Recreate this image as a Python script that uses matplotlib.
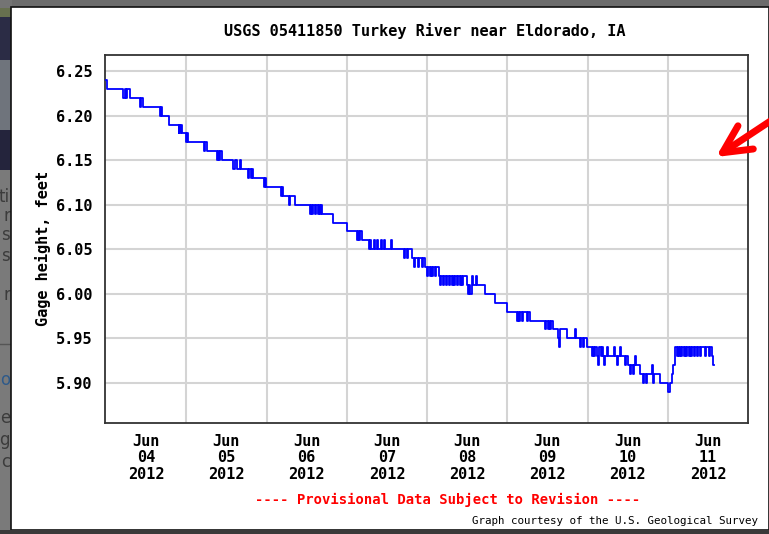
"""
USGS gage height chart - Turkey River near Eldorado, IA (Jun 04-11 2012)
"""

import matplotlib
matplotlib.use('Agg')
import matplotlib.pyplot as plt
from matplotlib.patches import Rectangle

# Gage height readings (feet), as step changes; hours counted from Jun 04 2012 00:00
hours = [
    0.0, 0.25, 5.2, 5.6, 6.0, 6.3, 7.3, 10.1, 10.4, 11.1, 16.0, 16.3, 16.6,
    18.7, 21.7, 21.9, 22.2, 22.5, 22.8, 24.0, 24.3, 24.6,
    29.2, 29.5, 30.2, 33.1, 33.4, 33.9, 34.1, 34.6,
    38.1, 38.5, 39.3, 40.0, 40.4, 42.6, 42.9, 43.3, 43.6, 43.9, 47.3, 47.6, 47.9,
    52.3, 52.6, 52.9, 54.7, 55.0, 56.4,
    60.9, 61.2, 61.7, 62.0, 62.5, 62.8, 63.3, 63.6, 64.1, 64.4, 64.7, 67.8,
    72.0, 75.0, 75.3, 75.8, 76.1, 76.7, 78.6, 78.9, 79.2,
    80.1, 80.4, 81.0, 81.3, 82.1, 82.4, 83.2, 83.5, 85.1, 85.4,
    89.1, 89.4, 89.9, 90.2, 91.5, 92.0, 92.3, 93.2, 93.5, 94.5, 94.8, 95.5,
    96.0, 96.3, 96.8, 97.1, 97.6, 97.9, 98.4, 98.7, 99.5,
    100.0, 100.3, 100.8, 101.1, 101.6, 101.9, 102.6, 102.9, 103.4, 103.7,
    104.2, 104.5, 105.0, 105.3, 105.8, 106.1, 106.6, 106.9,
    107.9, 108.2, 108.5, 109.0, 109.4, 109.7, 110.6, 110.9, 113.4, 116.3, 119.8,
    122.8, 123.1, 123.6, 123.9, 124.4, 124.7, 126.0, 126.3, 126.8,
    131.3, 131.6, 132.1, 132.4, 132.9, 133.2, 133.8,
    135.3, 135.6, 135.9, 137.8, 140.3, 140.6,
    141.8, 142.1, 142.6, 142.9, 143.8,
    145.2, 145.5, 146.0, 146.3, 146.8, 147.1, 147.4, 147.9, 148.2, 148.7,
    149.0, 149.3, 149.8, 150.1, 151.8, 152.1, 152.8, 153.1, 153.8, 154.1,
    155.2, 155.5, 156.0, 156.7, 157.0, 157.5, 157.8, 158.2, 158.5, 159.7,
    160.5, 160.8, 161.6, 161.9, 163.2, 163.5, 163.7, 164.0, 165.7,
    168.2, 168.7, 169.2, 169.5, 170.2,
    170.7, 171.0, 171.3, 171.6, 172.0, 172.3, 172.8, 173.1, 173.5, 173.8,
    174.3, 174.6, 175.0, 175.3, 175.8, 176.1, 176.6, 176.9, 177.7, 178.0,
    179.2, 179.5, 180.3, 180.6, 181.2, 181.5, 181.7,
]
gage_ft = [
    6.24, 6.23, 6.22, 6.23, 6.22, 6.23, 6.22, 6.21, 6.22, 6.21, 6.20, 6.21, 6.20,
    6.19, 6.18, 6.19, 6.18, 6.19, 6.18, 6.17, 6.18, 6.17,
    6.16, 6.17, 6.16, 6.15, 6.16, 6.15, 6.16, 6.15,
    6.14, 6.15, 6.14, 6.15, 6.14, 6.13, 6.14, 6.13, 6.14, 6.13, 6.12, 6.13, 6.12,
    6.11, 6.12, 6.11, 6.10, 6.11, 6.10,
    6.09, 6.10, 6.09, 6.10, 6.09, 6.10, 6.09, 6.10, 6.09, 6.10, 6.09, 6.08,
    6.07, 6.06, 6.07, 6.06, 6.07, 6.06, 6.05, 6.06, 6.05,
    6.06, 6.05, 6.06, 6.05, 6.06, 6.05, 6.06, 6.05, 6.06, 6.05,
    6.04, 6.05, 6.04, 6.05, 6.04, 6.03, 6.04, 6.03, 6.04, 6.03, 6.04, 6.03,
    6.02, 6.03, 6.02, 6.03, 6.02, 6.03, 6.02, 6.03, 6.02,
    6.01, 6.02, 6.01, 6.02, 6.01, 6.02, 6.01, 6.02, 6.01, 6.02,
    6.01, 6.02, 6.01, 6.02, 6.01, 6.02, 6.01, 6.02,
    6.01, 6.00, 6.01, 6.00, 6.02, 6.01, 6.02, 6.01, 6.00, 5.99, 5.98,
    5.97, 5.98, 5.97, 5.98, 5.97, 5.98, 5.97, 5.98, 5.97,
    5.96, 5.97, 5.96, 5.97, 5.96, 5.97, 5.96,
    5.95, 5.94, 5.96, 5.95, 5.96, 5.95,
    5.94, 5.95, 5.94, 5.95, 5.94,
    5.93, 5.94, 5.93, 5.94, 5.93, 5.92, 5.94, 5.93, 5.94, 5.93,
    5.92, 5.93, 5.94, 5.93, 5.94, 5.93, 5.92, 5.93, 5.94, 5.93,
    5.92, 5.93, 5.92, 5.91, 5.92, 5.91, 5.92, 5.93, 5.92, 5.91,
    5.90, 5.91, 5.90, 5.91, 5.92, 5.91, 5.90, 5.91, 5.90,
    5.89, 5.90, 5.91, 5.92, 5.94,
    5.93, 5.94, 5.93, 5.94, 5.93, 5.94, 5.93, 5.94, 5.93, 5.94,
    5.93, 5.94, 5.93, 5.94, 5.93, 5.94, 5.93, 5.94, 5.93, 5.94,
    5.93, 5.94, 5.93, 5.94, 5.93, 5.92, 5.92,
]

day_labels = ['Jun\n04\n2012', 'Jun\n05\n2012', 'Jun\n06\n2012', 'Jun\n07\n2012',
              'Jun\n08\n2012', 'Jun\n09\n2012', 'Jun\n10\n2012', 'Jun\n11\n2012']
y_ticks = [5.90, 5.95, 6.00, 6.05, 6.10, 6.15, 6.20, 6.25]

W, H = 769, 534
MONO = 'DejaVu Sans Mono'


def px(x, y):
    """pixel position -> figure fraction"""
    return x / W, 1 - y / H


fig = plt.figure(figsize=(W / 100, H / 100), dpi=100)
fig.patch.set_facecolor('#6c6c6c')

# ---- screenshot backdrop: page strip on the left, white graph panel ----
bg = fig.add_axes([0, 0, 1, 1], zorder=-2)
bg.set_xlim(0, W)
bg.set_ylim(H, 0)
bg.axis('off')
strip = [(0, 8, '#747474'), (8, 17, '#67704f'), (17, 60, '#2b2c45'),
         (60, 130, '#6f747c'), (130, 170, '#24243c'), (170, 534, '#7a7a7a')]
for y0, y1, c in strip:
    bg.add_patch(Rectangle((0, y0), 12, y1 - y0, color=c, lw=0))
bg.plot([0, 11], [344, 344], color='#555555', lw=1)
# bits of the web page peeking out at the left edge
for txt, yy, c in [('ti', 197, '#3c3c3c'), ('r', 216, '#3c3c3c'), ('s', 235, '#3c3c3c'),
                   ('s', 256, '#3c3c3c'), ('r', 295, '#3c3c3c'), ('o', 380, '#2e5a8a'),
                   ('e', 418, '#3c3c3c'), ('g', 440, '#3c3c3c'), ('c', 462, '#3c3c3c')]:
    bg.text(10, yy, txt, ha='right', va='center', fontsize=12, color=c)
bg.add_patch(Rectangle((11, 7), W - 11, 523, facecolor='white', edgecolor='#111111', lw=1.2, zorder=3))
bg.add_patch(Rectangle((0, 530), W, 4, color='#3a3a3a', lw=0, zorder=4))

# ---- graph ----
left, top = px(105, 55)
right, bottom = px(748, 423)
ax = fig.add_axes([left, bottom, right - left, top - bottom])
ax.set_facecolor('white')

ax.plot(hours, gage_ft, drawstyle='steps-post', color='#0000ff', lw=1.3, zorder=3)

ax.set_xlim(-0.3, 192)
ax.set_ylim(5.855, 6.268)

ax.set_xticks([24 * d for d in range(1, 8)])
ax.set_xticklabels([])
ax.set_xticks([12 + 24 * d for d in range(8)], minor=True)
ax.set_xticklabels(day_labels, minor=True, fontfamily=MONO, fontweight='bold',
                   fontsize=11, linespacing=1.1)
ax.set_yticks(y_ticks)
ax.set_yticklabels([f'{v:.2f}' for v in y_ticks], fontfamily=MONO,
                   fontweight='bold', fontsize=11)
ax.tick_params(axis='both', which='both', length=0)
ax.tick_params(axis='x', which='minor', pad=8)
ax.tick_params(axis='y', pad=9)
ax.grid(True, which='major', color='#d4d4d4', lw=1.5)
ax.set_axisbelow(True)
for s in ax.spines.values():
    s.set_color('#333333')
    s.set_linewidth(1.3)

fig.text(*px(425, 31), 'USGS 05411850 Turkey River near Eldorado, IA', ha='center',
         va='center', fontfamily=MONO, fontweight='bold', fontsize=11)
fig.text(*px(43, 248), 'Gage height, feet', ha='center', va='center', rotation=90,
         fontfamily=MONO, fontweight='bold', fontsize=11)
fig.text(*px(448, 500), '---- Provisional Data Subject to Revision ----', ha='center',
         va='center', fontfamily=MONO, fontweight='bold', fontsize=10, color='#ff0000')
fig.text(*px(758, 521), 'Graph courtesy of the U.S. Geological Survey', ha='right',
         va='center', fontfamily=MONO, fontsize=7.8, color='black')

# ---- red arrow drawn over the screenshot ----
over = fig.add_axes([0, 0, 1, 1], zorder=5)
over.set_xlim(0, W)
over.set_ylim(H, 0)
over.axis('off')
over.patch.set_alpha(0)
over.annotate('', xy=(716, 157), xytext=(778, 116),
              arrowprops=dict(arrowstyle='->,head_length=2.0,head_width=1.0',
                              color='#ff0000', lw=5, capstyle='round',
                              joinstyle='round', shrinkA=0, shrinkB=0))

fig.savefig('out.png', dpi=100, facecolor=fig.get_facecolor())
